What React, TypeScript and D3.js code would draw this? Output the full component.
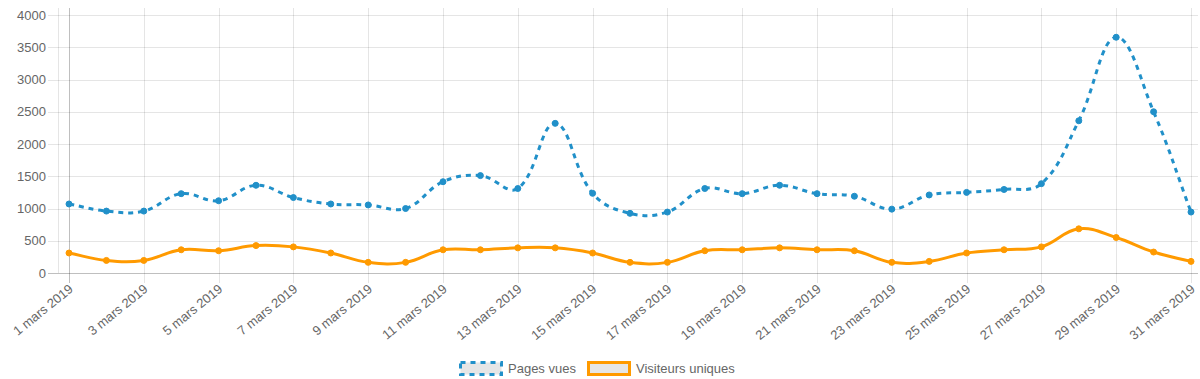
import React from 'react';
import * as d3 from 'd3';

const days = [1, 2, 3, 4, 5, 6, 7, 8, 9, 10, 11, 12, 13, 14, 15, 16, 17, 18, 19, 20, 21, 22, 23, 24, 25, 26, 27, 28, 29, 30, 31];
const pagesVues = [1070, 960, 960, 1230, 1120, 1360, 1170, 1070, 1055, 1000, 1415, 1510, 1310, 2320, 1235, 925, 945, 1310, 1230, 1360, 1230, 1190, 990, 1210, 1250, 1295, 1385, 2360, 3655, 2500, 945];
const visiteurs = [310, 195, 195, 360, 345, 425, 405, 310, 165, 165, 360, 360, 390, 390, 310, 165, 165, 345, 360, 390, 360, 345, 165, 180, 310, 360, 405, 685, 550, 325, 180];
const yTicks = [0, 500, 1000, 1500, 2000, 2500, 3000, 3500, 4000];
const labelDays = [1, 3, 5, 7, 9, 11, 13, 15, 17, 19, 21, 23, 25, 27, 29, 31];
const monthLabel = 'mars 2019';
const seriesNames = ['Pages vues', 'Visiteurs uniques'];

const BLUE = '#2190c9';
const ORANGE = '#ff9a00';
const FONT = "'Liberation Sans', Arial, Helvetica, sans-serif";

const W = 1200;
const H = 379;
const area = { left: 58, right: 1198, top: 8, bottom: 273 };

const x = d3.scaleLinear().domain([1, 31]).range([69, 1191]);
const y = d3.scaleLinear().domain([0, 4000]).range([273, 15]);

function splinePath(pts: [number, number][], t = 0.4): string {
  const cps = pts.map((p, i) => {
    const prev = pts[i - 1] || p;
    const next = pts[i + 1] || p;
    const d01 = Math.hypot(p[0] - prev[0], p[1] - prev[1]);
    const d12 = Math.hypot(next[0] - p[0], next[1] - p[1]);
    let s01 = d01 / (d01 + d12);
    let s12 = d12 / (d01 + d12);
    if (isNaN(s01)) s01 = 0;
    if (isNaN(s12)) s12 = 0;
    const fa = t * s01;
    const fb = t * s12;
    const clampX = (v: number) => Math.max(area.left, Math.min(area.right, v));
    const clampY = (v: number) => Math.max(area.top, Math.min(area.bottom, v));
    return {
      prev: [clampX(p[0] - fa * (next[0] - prev[0])), clampY(p[1] - fa * (next[1] - prev[1]))],
      next: [clampX(p[0] + fb * (next[0] - prev[0])), clampY(p[1] + fb * (next[1] - prev[1]))],
    };
  });
  const path = d3.path();
  pts.forEach((p, i) => {
    if (i === 0) path.moveTo(p[0], p[1]);
    else {
      const a = cps[i - 1].next;
      const b = cps[i].prev;
      path.bezierCurveTo(a[0], a[1], b[0], b[1], p[0], p[1]);
    }
  });
  return path.toString();
}

export default function App() {
  const bluePts = days.map((d, i) => [x(d), y(pagesVues[i])] as [number, number]);
  const orangePts = days.map((d, i) => [x(d), y(visiteurs[i])] as [number, number]);

  return (
    <svg width={W} height={H} style={{ position: 'absolute', left: 0, top: 0, background: '#fff' }} fontFamily={FONT}>
      {yTicks.map((v) => (
        <line key={'h' + v} x1={48} x2={area.right} y1={Math.round(y(v)) + 0.5} y2={Math.round(y(v)) + 0.5}
          stroke={v === 0 ? 'rgba(0,0,0,0.25)' : 'rgba(0,0,0,0.1)'} strokeWidth={1} />
      ))}
      <line x1={area.left + 0.5} x2={area.left + 0.5} y1={area.top} y2={area.bottom} stroke="rgba(0,0,0,0.1)" />
      {labelDays.map((d, i) => (
        <line key={'v' + d} x1={Math.round(x(d)) + 0.5} x2={Math.round(x(d)) + 0.5} y1={area.top} y2={283}
          stroke={i === 0 ? 'rgba(0,0,0,0.25)' : 'rgba(0,0,0,0.1)'} />
      ))}
      {yTicks.map((v) => (
        <text key={'yl' + v} x={46} y={y(v)} dy="0.35em" textAnchor="end" fontSize={13} fill="#666">{v}</text>
      ))}
      {labelDays.map((d) => (
        <text key={'xl' + d} transform={`translate(${x(d) + 2},${287}) rotate(-39)`} dy="0.35em" textAnchor="end" fontSize={13} fill="#666">
          {`${d} ${monthLabel}`}
        </text>
      ))}
      <path d={splinePath(orangePts)} fill="none" stroke={ORANGE} strokeWidth={3} />
      {orangePts.map((p, i) => (
        <circle key={'o' + i} cx={p[0]} cy={p[1]} r={3} fill={ORANGE} stroke={ORANGE} strokeWidth={1} />
      ))}
      <path d={splinePath(bluePts)} fill="none" stroke={BLUE} strokeWidth={3} strokeDasharray="5,5" />
      {bluePts.map((p, i) => (
        <circle key={'b' + i} cx={p[0]} cy={p[1]} r={3} fill={BLUE} stroke={BLUE} strokeWidth={1} />
      ))}
      <rect x={460.5} y={362.5} width={41} height={12} fill="#e6e6e6" stroke={BLUE} strokeWidth={3} strokeDasharray="5,5" />
      <text x={508} y={368.5} dy="0.35em" fontSize={13} fill="#666">{seriesNames[0]}</text>
      <rect x={588.5} y={362.5} width={41} height={12} fill="#e6e6e6" stroke={ORANGE} strokeWidth={3} />
      <text x={636} y={368.5} dy="0.35em" fontSize={13} fill="#666">{seriesNames[1]}</text>
    </svg>
  );
}
